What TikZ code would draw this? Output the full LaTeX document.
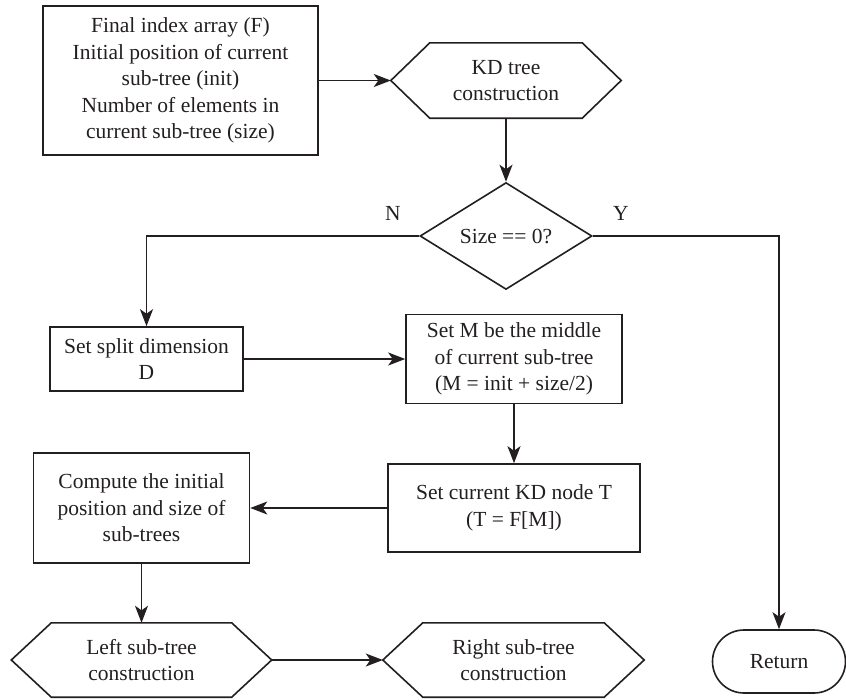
\documentclass[tikz,border=0pt]{standalone}
\usepackage{fontspec}
\setmainfont{Liberation Serif}
\usetikzlibrary{arrows.meta,calc,shapes.geometric,shapes.misc}
\definecolor{ink}{HTML}{231F20}
\newcommand\drawhex[2]{%
  \draw[shapeline] (#1.west) -- ($(#1.north west)+(#2,0)$) -- ($(#1.north east)+(-#2,0)$) -- (#1.east)
    -- ($(#1.south east)+(-#2,0)$) -- ($(#1.south west)+(#2,0)$) -- cycle;}
\begin{document}
\begin{tikzpicture}[x=1pt,y=-1pt,
  font=\fontsize{21.5}{26.5}\selectfont, text=ink,
  shapeline/.style={draw=ink,line width=1.6pt},
  boxnode/.style={shapeline,rectangle,inner sep=0pt,align=center},
  hexnode/.style={rectangle,inner sep=0pt,align=center},
  arr/.style={draw=ink,line width=1.6pt,-{Stealth[length=17pt,width=13pt,inset=4.5pt]}},
  lbl/.style={inner sep=0pt}]
\useasboundingbox (0,0) rectangle (846,699);

\node[boxnode,minimum width=275pt,minimum height=149pt] (inp) at (180.5,80.5)
  {Final index array (F)\\Initial position of current\\sub-tree (init)\\Number of elements in\\current sub-tree (size)};
\node[hexnode,minimum width=230pt,minimum height=75pt] (kd) at (506,80.5) {KD tree\\construction};
\drawhex{kd}{39}
\node[diamond,draw=ink,line width=1.6pt,inner sep=0pt,minimum width=172pt,minimum height=86pt] (dia) at (506,236) {Size == 0?};
\node[lbl] (nl) at (393,213) {N};
\node[lbl] (yl) at (621,213) {Y};
\node[boxnode,minimum width=193pt,minimum height=64pt] (split) at (146.5,359) {Set split dimension\\D};
\node[boxnode,minimum width=216pt,minimum height=89pt] (mid) at (514,359) {Set M be the middle\\of current sub-tree\\(M = init + size/2)};
\node[boxnode,minimum width=252pt,minimum height=88pt] (tn) at (514,508) {Set current KD node T\\(T = F[M])};
\node[boxnode,minimum width=216pt,minimum height=110pt] (comp) at (141.5,508) {Compute the initial\\position and size of\\sub-trees};
\node[hexnode,minimum width=260pt,minimum height=74pt] (lhex) at (141.5,660) {Left sub-tree\\construction};
\drawhex{lhex}{40}
\node[hexnode,minimum width=261pt,minimum height=74pt] (rhex) at (513.5,660) {Right sub-tree\\construction};
\drawhex{rhex}{40}
\node[rounded rectangle,draw=ink,line width=1.6pt,inner sep=0pt,minimum width=133pt,minimum height=63pt] (ret) at (779,661.5) {Return};

\draw[arr] (inp.east) -- (kd.west);
\draw[arr] (kd.south) -- (dia.north);
\draw[arr] (dia.west) -| (split.north);
\draw[arr] (dia.east) -| (ret.north);
\draw[arr] (split.east) -- (mid.west);
\draw[arr] (mid.south) -- (tn.north);
\draw[arr] (tn.west) -- (comp.east);
\draw[arr] (comp.south) -- (lhex.north);
\draw[arr] (lhex.east) -- (rhex.west);
\end{tikzpicture}
\end{document}
